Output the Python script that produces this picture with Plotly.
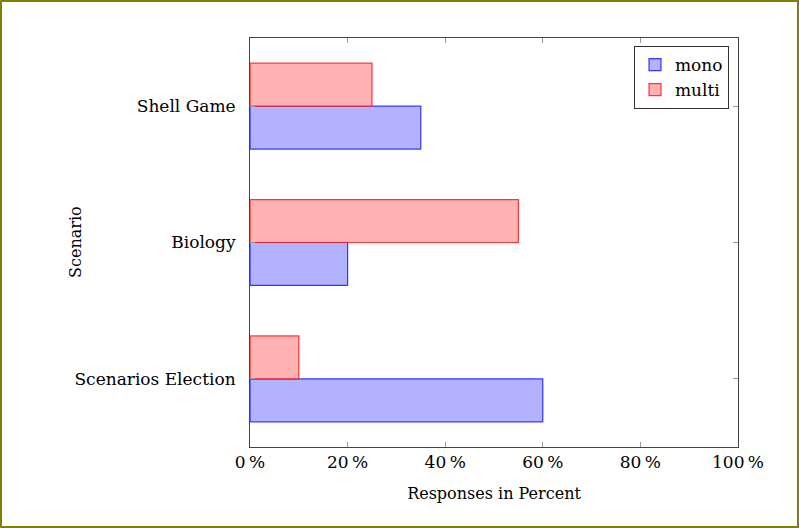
import plotly.graph_objects as go

categories = ["Scenarios Election", "Biology", "Shell Game"]
mono = [60, 20, 35]
multi = [10, 55, 25]
x_ticks = [0, 20, 40, 60, 80, 100]
x_tick_labels = ["0\u2009%", "20\u2009%", "40\u2009%", "60\u2009%", "80\u2009%", "100\u2009%"]

W, H = 799, 528
L, R, T, B = 250, 61, 38, 81
pw, ph = W - L - R, H - T - B

font = "DejaVu Serif"

fig = go.Figure()
fig.add_trace(go.Bar(y=categories, x=mono, name="mono", orientation="h",
                     marker=dict(color="rgb(178,178,255)", line=dict(color="rgba(0,0,255,0.75)", width=1.2))))
fig.add_trace(go.Bar(y=categories, x=multi, name="multi", orientation="h",
                     marker=dict(color="rgb(255,178,178)", line=dict(color="rgba(255,0,0,0.75)", width=1.2))))

fig.update_layout(
    width=W, height=H,
    margin=dict(l=L, r=R, t=T, b=B, autoexpand=False),
    paper_bgcolor="white", plot_bgcolor="white",
    barmode="group", bargap=0.37, bargroupgap=0,
    font=dict(family=font, size=16, color="black"),
    showlegend=True,
    legend=dict(x=(729 - L) / pw, xanchor="right", y=(H - B - 46) / ph, yanchor="top",
                bordercolor="#333", borderwidth=1, bgcolor="white",
                font=dict(family=font, size=17), traceorder="normal",
                itemwidth=30, tracegroupgap=2),
    xaxis=dict(range=[0, 100], tickvals=x_ticks, ticktext=x_tick_labels,
               showgrid=False, zeroline=False, showline=True, linecolor="#444", linewidth=1,
               mirror="allticks", ticks="inside", ticklen=5, tickcolor="#999",
               title=dict(text="Responses in Percent", font=dict(family=font, size=16), standoff=16),
               tickfont=dict(family=font, size=17)),
    yaxis=dict(range=[-0.5, 2.5], showgrid=False, zeroline=False, showline=True,
               linecolor="#444", linewidth=1, mirror="allticks", ticks="inside",
               ticklen=5, tickcolor="#999", ticklabelstandoff=10,
               tickfont=dict(family=font, size=17)),
    annotations=[dict(text="Scenario", xref="paper", yref="paper",
                      x=(75 - L) / pw, y=(H - B - 242) / ph, textangle=-90,
                      showarrow=False, xanchor="center", yanchor="middle",
                      font=dict(family=font, size=16))],
    shapes=[dict(type="rect", xref="paper", yref="paper",
                 x0=(1 - L) / pw, x1=(W - 1 - L) / pw,
                 y0=(H - B - (H - 1)) / ph, y1=(H - B - 1) / ph,
                 line=dict(color="#808000", width=2), fillcolor="rgba(0,0,0,0)")],
)

fig.write_html("out.html", config={"displayModeBar": False},
               post_script="document.body.style.margin='0';document.body.style.overflow='hidden';")
